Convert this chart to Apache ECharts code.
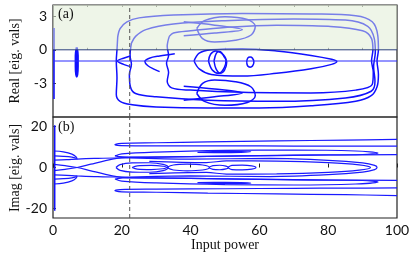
<!DOCTYPE html>
<html><head><meta charset="utf-8">
<script src="https://cdn.jsdelivr.net/npm/echarts@6/dist/echarts.min.js"></script>
<style>html,body{margin:0;padding:0;background:#fff}#c{width:415px;height:258px}</style>
</head><body><div id="c"></div>
<script>
// ---------- tick labels ----------
const xTicks = [0, 20, 40, 60, 80, 100];
const realTicks = [-3, 0, 3];
const imagTicks = [-20, 0, 20];
const dashedX = 22.3;

// ---------- panel (a): real parts of eigenvalues ----------
const realLoopA = [[18.8,1.1],[19.5,1.9],[21.5,2.5],[25,2.85],[35,3.1],[55,3.25],[75,3.2],[88,3.05],[92.8,2.5],[94.4,1.3],[94.6,0],[94.2,-1],[94.6,-2.2],[94.2,-3.3],[92.5,-4.1],[88,-4.6],[75,-5.0],[60,-5.2],[45,-5.2],[30,-5.1],[23,-4.9],[19.5,-4.6],[18.4,-4.0],[18.6,-2.5],[18.4,-1.0],[18.6,0],[18.8,1.1]];
const realLoopB = [[22.8,0.6],[24,1.2],[27,1.8],[35,2.3],[50,2.6],[70,2.75],[85,2.65],[91.5,2.1],[93.4,1.0],[93.7,-0.2],[93.2,-1.5],[93.6,-2.8],[92.5,-3.7],[85,-4.3],[65,-4.6],[45,-4.5],[30,-4.2],[24,-3.9],[22.5,-3.3],[22.2,-2.2],[22.8,-1.3],[22.4,-0.5],[22.8,0.6]];
const realLoopC = [[33.8,1.2],[35,1.5],[40,1.7],[50,2.0],[65,2.2],[80,2.1],[90,1.7],[92.6,1.0],[93.0,0],[92.6,-1],[93.1,-2],[92.8,-3.1],[88,-3.6],[75,-3.85],[55,-3.8],[40,-3.6],[34.5,-3.4],[33.2,-2.8],[33.6,-2.0],[33.0,-1.2],[33.6,-0.5],[33.2,0.3],[33.8,1.2]];
const realFishUp = [[41.8,1.9],[44,2.6],[50,2.95],[56.5,2.7],[58.8,2.1],[57.5,1.3],[53,0.85],[47,0.7],[43.5,1.0],[41.8,1.9]];
const realArrowUp = [[38,2.5],[47,2.2],[55,1.8],[47,1.5],[38,1.25]];
const realFishDn = [[41.8,-3.9],[44,-4.6],[50,-4.95],[56.5,-4.7],[58.8,-4.1],[57.5,-3.3],[53,-2.85],[47,-2.7],[43.5,-3.0],[41.8,-3.9]];
const realArrowDn = [[38,-4.5],[47,-4.2],[55,-3.85],[47,-3.5],[38,-3.25]];
const realBigEllipse = [[41,-1],[42.5,-0.3],[46,0.0],[55,0.1],[65,-0.1],[75,-0.5],[81,-0.85],[82.5,-1.05],[81,-1.3],[75,-1.7],[65,-2.1],[55,-2.35],[46,-2.2],[42.5,-1.7],[41,-1]];
const realEyeA = [[45.2,-1.0],[45.8,-0.4],[47.3,-0.1],[49,-0.3],[50.3,-0.9],[49.8,-1.6],[48.2,-2.1],[46.3,-1.8],[45.2,-1.0]];
const realEyeB = [[46.8,-1.0],[47.5,-0.3],[48.5,-0.15],[49.7,-0.6],[50.5,-1.1],[49.9,-1.8],[48.6,-2.1],[47.4,-1.7],[46.8,-1.0]];
const realSmallRing = [[56.3,-1.1],[56.6,-0.75],[57.3,-0.65],[58.0,-0.75],[58.4,-1.1],[58.0,-1.45],[57.3,-1.55],[56.6,-1.45],[56.3,-1.1]];
const realHookLeft = [[35.4,-0.35],[31,-0.55],[28,-0.75],[26.7,-1.05],[27.5,-1.4],[29.5,-1.75],[31,-1.95]];
const realHookOuter = [[22.5,-0.55],[20.5,-0.75],[18.7,-1.0],[20.5,-1.3],[22.5,-1.5]];
const realSpike = [[6.9,0.2],[7.2,-0.5],[7.2,-1.5],[6.9,-2.4],[6.6,-1.5],[6.6,-0.5],[6.9,0.2]];
const realEdge = [[0.3,1.95],[0.3,-4.4]];
const realZeroLine = [[0,0],[100,0]];
const realMinusOneLine = [[0,-1],[100,-1]];

// ---------- panel (b): imaginary parts of eigenvalues ----------
const imagEdge = [[0.5,20.5],[0.5,-21]];
const imagLeftTopU = [[0.3,8.0],[3,7.6],[5.5,6.5],[6.8,5.0],[7,4.0]];
const imagLeftTopL = [[0.3,-8.0],[3,-7.6],[5.5,-6.5],[6.8,-5.0],[7,-4.0]];
const imagLeftMidU = [[0.3,5.6],[3,5.4],[5.5,5.0],[6.9,4.4]];
const imagLeftMidL = [[0.3,-5.6],[3,-5.4],[5.5,-5.0],[6.9,-4.4]];
const imagLeftRunU = [[0.3,3.6],[4,3.8],[7,4.1],[12,4.4],[18,4.6],[22,4.6]];
const imagLeftRunL = [[0.3,-3.6],[4,-3.8],[7,-4.1],[12,-4.4],[18,-4.6],[22,-4.6]];
const imagCrossA = [[0.3,1.5],[3.5,0.9],[7,0],[11,-1.6],[15,-3.2],[18.5,-4.4],[22,-5.0]];
const imagCrossB = [[0.3,-1.5],[3.5,-0.9],[7,0],[11,1.6],[15,3.2],[18.5,4.4],[22,5.0]];
const imagOuterU = [[100,13.6],[85,13.3],[65,12.9],[45,12.4],[30,12.0],[20,11.7],[18,11.1],[19.5,10.6],[30,10.5],[50,10.5],[70,10.4],[85,10.4],[100,10.4]];
const imagOuterL = [[100,-13.6],[85,-13.2],[65,-12.8],[45,-12.4],[30,-12.0],[20,-11.8],[18,-11.2],[19.5,-10.7],[30,-10.5],[50,-10.3],[70,-10.1],[85,-10.0],[100,-9.9]];
const imagPinU = [[18,5.6],[20,6.6],[30,7.5],[50,8.3],[70,8.5],[88,8.0],[94.5,7.0],[90,6.3],[75,6.0],[55,5.6],[35,5.2],[22,4.9],[18,5.6]];
const imagPinL = [[18,-5.6],[20,-6.6],[30,-7.5],[50,-8.3],[70,-8.5],[88,-8.0],[94.5,-7.0],[90,-6.3],[75,-6.0],[55,-5.6],[35,-5.2],[22,-4.9],[18,-5.6]];
const imagRunU = [[22,5.0],[40,5.3],[60,5.8],[80,6.1],[100,6.2]];
const imagRunL = [[22,-5.0],[40,-5.3],[60,-5.8],[80,-6.1],[100,-6.2]];
const imagShortU = [[42,7.3],[50,7.8],[57.5,7.6],[50,7.2],[42,7.3]];
const imagShortL = [[42,-7.3],[50,-7.8],[57.5,-7.6],[50,-7.2],[42,-7.3]];
const imagNoseOuter = [[22,4.7],[40,4.1],[63,4.4],[80,3.5],[90,2.2],[93.5,1.0],[94.2,0],[93.5,-1.0],[90,-2.2],[80,-3.5],[63,-4.4],[40,-4.1],[22,-4.7]];
const imagNoseInner = [[28,3.0],[44.6,2.4],[50.4,3.2],[65,3.1],[80,2.4],[89,1.3],[92.3,0],[89,-1.3],[80,-2.4],[65,-3.1],[50.4,-3.2],[44.6,-2.4],[28,-3.0]];
const imagEll1 = [[18.3,0],[19.5,1.4],[23,2.2],[28,2.3],[32,1.5],[33.5,0],[32,-1.5],[28,-2.3],[23,-2.2],[19.5,-1.4],[18.3,0]];
const imagEll2 = [[23,0],[24.5,0.8],[28.5,1.0],[32,0.6],[33,0],[32,-0.6],[28.5,-1.0],[24.5,-0.8],[23,0]];
const imagEll3 = [[33,0],[35,1.2],[39,1.6],[43.5,1.2],[45.5,0],[43.5,-1.2],[39,-1.6],[35,-1.2],[33,0]];
const imagEll4 = [[45.3,0],[46.5,0.9],[48.5,1.1],[50.3,0.7],[51,0],[50.3,-0.7],[48.5,-1.1],[46.5,-0.9],[45.3,0]];
const imagEll5 = [[50.8,0],[52,1.0],[55,1.2],[57.8,0.8],[59,0],[57.8,-0.8],[55,-1.2],[52,-1.0],[50.8,0]];

const BLUE = '#1010ff';
function curve(data, gi, width, color, z) {
  return {type:'line', xAxisIndex:gi, yAxisIndex:gi, data:data, showSymbol:false, smooth:0.35,
    lineStyle:{color:color||BLUE, width:width}, z:z||2, silent:true, animation:false};
}
function straight(data, gi, width, color, type, z) {
  return {type:'line', xAxisIndex:gi, yAxisIndex:gi, data:data, showSymbol:false, smooth:false,
    lineStyle:{color:color, width:width, type:type||'solid'}, z:z||2, silent:true, animation:false};
}

const topCurves = [realLoopA, realLoopB, realLoopC, realFishUp, realArrowUp, realFishDn, realArrowDn,
  realBigEllipse, realEyeA, realEyeB, realSmallRing, realHookLeft, realHookOuter];
const botCurves = [imagLeftTopU, imagLeftTopL, imagLeftMidU, imagLeftMidL, imagLeftRunU, imagLeftRunL,
  imagCrossA, imagCrossB, imagOuterU, imagOuterL, imagPinU, imagPinL, imagRunU, imagRunL,
  imagShortU, imagShortL, imagNoseOuter, imagNoseInner, imagEll1, imagEll2, imagEll3, imagEll4, imagEll5];

const series = [];
topCurves.forEach(d => series.push(curve(d, 0, 1.5)));
series.push(curve(realSpike, 0, 2.2));
series.push(straight(realEdge, 0, 1.5, BLUE));
series.push(straight(realMinusOneLine, 0, 1, '#2a2aff', 'solid', 3));
// translucent pale-green shade laid over the positive half-plane
series.push({type:'line', xAxisIndex:0, yAxisIndex:0, data:[], z:10, silent:true, animation:false,
  markArea:{silent:true, z:10, itemStyle:{color:'rgba(222,236,210,0.5)'}, data:[[{yAxis:0},{yAxis:4}]]}});
series.push(straight(realZeroLine, 0, 1, '#2c3f7c', 'solid', 11));
series.push(straight([[dashedX,-6],[dashedX,4]], 0, 1, '#555', [4,3], 12));
botCurves.forEach(d => series.push(curve(d, 1, 1.2, '#1a1aff')));
series.push(straight(imagEdge, 1, 1.5, BLUE));
series.push(straight([[dashedX,-24.5],[dashedX,24.5]], 1, 1, '#555', [4,3], 12));

const tickFont = {fontFamily:'Lato', fontSize:14, color:'#111'};
const option = {
  backgroundColor:'#fff',
  animation:false,
  grid:[
    {left:53, top:5, width:344, height:112, show:true, borderColor:'#222', borderWidth:1.2, backgroundColor:'transparent'},
    {left:53, top:117, width:344, height:101, show:true, borderColor:'#222', borderWidth:1.2, backgroundColor:'transparent'}
  ],
  xAxis:[
    {gridIndex:0, type:'value', min:0, max:100, interval:10, axisLine:{show:false}, splitLine:{show:false},
      axisTick:{inside:true, length:2, lineStyle:{color:'#777'}}, axisLabel:{show:false}},
    {gridIndex:1, type:'value', min:0, max:100, interval:20, axisLine:{show:false}, splitLine:{show:false},
      axisTick:{inside:true, length:4, lineStyle:{color:'#222'}},
      axisLabel:Object.assign({margin:5, customValues:xTicks}, tickFont)},
    {gridIndex:0, type:'value', position:'top', min:0, max:100, interval:10, axisLine:{show:false}, splitLine:{show:false},
      axisTick:{inside:true, length:2, lineStyle:{color:'#777'}}, axisLabel:{show:false}}
  ],
  yAxis:[
    {gridIndex:0, type:'value', min:-6, max:4, axisLine:{show:false}, splitLine:{show:false},
      axisTick:{inside:true, length:3, customValues:realTicks, lineStyle:{color:'#444'}},
      axisLabel:Object.assign({margin:6, customValues:realTicks}, tickFont)},
    {gridIndex:1, type:'value', min:-24.5, max:24.5, axisLine:{show:false}, splitLine:{show:false},
      axisTick:{inside:true, length:3, customValues:imagTicks, lineStyle:{color:'#444'}},
      axisLabel:Object.assign({margin:6, customValues:imagTicks}, tickFont)}
  ],
  graphic:[
    {type:'text', x:58, y:7, z:100, style:{text:'(a)', fontFamily:'Liberation Serif', fontSize:14, fill:'#111'}},
    {type:'text', x:58, y:120, z:100, style:{text:'(b)', fontFamily:'Liberation Serif', fontSize:14, fill:'#111'}},
    {type:'text', x:15, y:61, rotation:Math.PI/2, z:100, style:{text:'Real [eig. vals]', x:0, y:0, align:'center', verticalAlign:'middle', fontFamily:'Liberation Serif', fontSize:14, fill:'#111'}},
    {type:'text', x:15, y:168, rotation:Math.PI/2, z:100, style:{text:'Imag [eig. vals]', x:0, y:0, align:'center', verticalAlign:'middle', fontFamily:'Liberation Serif', fontSize:14, fill:'#111'}},
    {type:'text', x:225, y:245, z:100, style:{text:'Input power', x:0, y:0, align:'center', verticalAlign:'middle', fontFamily:'Liberation Serif', fontSize:14, fill:'#111'}}
  ],
  series:series
};
const chart = echarts.init(document.getElementById('c'), null, {renderer:'canvas'});
chart.setOption(option);
</script></body></html>
